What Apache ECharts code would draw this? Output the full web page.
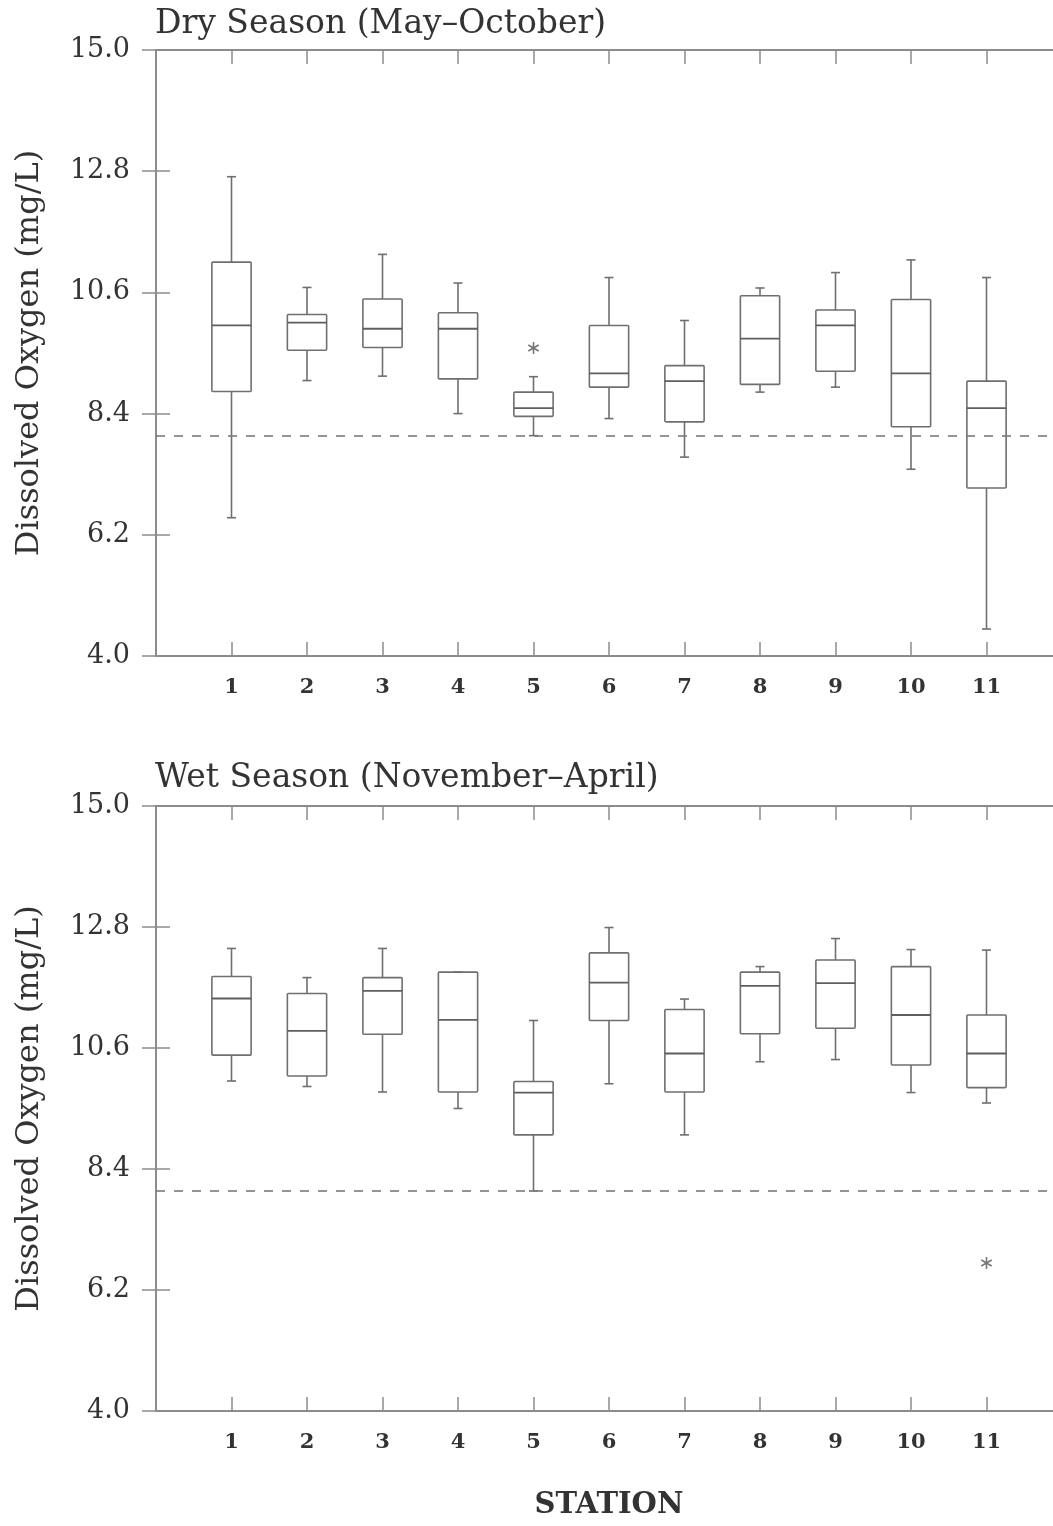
<!DOCTYPE html>
<html>
<head>
<meta charset="utf-8">
<script src="https://cdn.jsdelivr.net/npm/echarts@6/dist/echarts.min.js"></script>
<style>
html,body{margin:0;padding:0;background:#fff;}
#chart{width:1053px;height:1526px;}
</style>
</head>
<body>
<div id="chart"></div>
<script>
// ---- data ----
const stations = [1, 2, 3, 4, 5, 6, 7, 8, 9, 10, 11];
const yTicks = [4.0, 6.2, 8.4, 10.6, 12.8, 15.0];
const standardDO = 8.0;

const dryMin = [6.51, 9.00, 9.08, 8.40, 8.00, 8.31, 7.61, 8.79, 8.88, 7.39, 4.49];
const dryQ1  = [8.80, 9.55, 9.60, 9.03, 8.35, 8.88, 8.25, 8.93, 9.17, 8.16, 7.05];
const dryMed = [10.00, 10.05, 9.94, 9.94, 8.50, 9.13, 8.99, 9.76, 10.00, 9.13, 8.50];
const dryQ3  = [11.15, 10.20, 10.48, 10.23, 8.79, 10.00, 9.27, 10.54, 10.28, 10.47, 8.99];
const dryMax = [12.70, 10.69, 11.29, 10.77, 9.07, 10.87, 10.09, 10.68, 10.96, 11.19, 10.87];
const dryOutStation = [5];
const dryOutValue = [9.59];

const wetMin = [10.00, 9.90, 9.80, 9.50, 8.00, 9.95, 9.02, 10.35, 10.39, 9.79, 9.60];
const wetQ1  = [10.47, 10.09, 10.85, 9.80, 9.02, 11.10, 9.80, 10.86, 10.96, 10.29, 9.88];
const wetMed = [11.50, 10.91, 11.64, 11.11, 9.79, 11.79, 10.50, 11.73, 11.78, 11.20, 10.50];
const wetQ3  = [11.90, 11.59, 11.88, 11.98, 9.99, 12.33, 11.30, 11.98, 12.20, 12.08, 11.20];
const wetMax = [12.41, 11.88, 12.41, 11.98, 11.10, 12.79, 11.49, 12.08, 12.59, 12.39, 12.38];
const wetOutStation = [11];
const wetOutValue = [6.69];

const titles = ['Dry Season (May\u2013October)', 'Wet Season (November\u2013April)'];
const yName = 'Dissolved Oxygen (mg/L)';
const xName = 'STATION';

// ---- styles ----
const LINE = '#6f6f6f';
const AXIS = '#8c8c8c';
const TXT = '#333';
const SERIF = '"DejaVu Serif", "Liberation Serif", serif';

function boxData(mn, q1, md, q3, mx) {
  return stations.map((s, i) => [s, mn[i], q1[i], md[i], q3[i], mx[i]]);
}
function outData(st, v) { return st.map((s, i) => [s, v[i]]); }

function renderBox(params, api) {
  const x = api.value(0);
  const lo = api.coord([x, api.value(1)]);
  const q1 = api.coord([x, api.value(2)]);
  const md = api.coord([x, api.value(3)]);
  const q3 = api.coord([x, api.value(4)]);
  const hi = api.coord([x, api.value(5)]);
  const half = api.size([1, 0])[0] * 0.26;
  const cap = 4.5;
  const cx = lo[0];
  const st = { stroke: LINE, lineWidth: 1.6, fill: null };
  const children = [
    { type: 'rect', shape: { x: cx - half, y: q3[1], width: 2 * half, height: q1[1] - q3[1], r: 1 }, style: { stroke: LINE, lineWidth: 1.6, fill: 'rgba(0,0,0,0)' } },
    { type: 'line', shape: { x1: cx - half, y1: md[1], x2: cx + half, y2: md[1] }, style: { stroke: '#5e5e5e', lineWidth: 1.8 } },
    { type: 'line', shape: { x1: cx, y1: q3[1], x2: cx, y2: hi[1] }, style: st },
    { type: 'line', shape: { x1: cx - cap, y1: hi[1], x2: cx + cap, y2: hi[1] }, style: st },
    { type: 'line', shape: { x1: cx, y1: q1[1], x2: cx, y2: lo[1] }, style: st },
    { type: 'line', shape: { x1: cx - cap, y1: lo[1], x2: cx + cap, y2: lo[1] }, style: st }
  ];
  return { type: 'group', children };
}

const grids = [
  { left: 156, width: 906, top: 50, height: 606, outerBoundsMode: 'none', containLabel: false },
  { left: 156, width: 906, top: 806, height: 605, outerBoundsMode: 'none', containLabel: false }
];

const xAxes = [], yAxes = [];
grids.forEach((g, gi) => {
  const common = {
    type: 'value', gridIndex: gi, min: 0, max: 12, interval: 1,
    axisLine: { show: true, lineStyle: { color: AXIS, width: 2 } },
    axisTick: { show: true, inside: true, length: 14, lineStyle: { color: AXIS, width: 1.5 } },
    splitLine: { show: false }
  };
  xAxes.push(Object.assign({}, common, {
    position: 'bottom',
    axisLabel: {
      show: true, margin: 21, color: TXT, fontFamily: SERIF, fontSize: 21, fontWeight: 'bold',
      formatter: v => (v >= 1 && v <= 11) ? String(v) : ''
    },
    name: gi === 1 ? xName : '',
    nameLocation: 'middle', nameGap: 80,
    nameTextStyle: { color: TXT, fontFamily: SERIF, fontSize: 29, fontWeight: 'bold' }
  }));
  xAxes.push(Object.assign({}, common, { position: 'top', axisLabel: { show: false } }));
  const ycommon = {
    type: 'value', gridIndex: gi, min: 4, max: 15,
    axisLine: { show: true, lineStyle: { color: AXIS, width: 2 } },
    axisTick: { show: true, inside: true, length: 14, customValues: yTicks, lineStyle: { color: AXIS, width: 1.5 } },
    splitLine: { show: false }
  };
  yAxes.push(Object.assign({}, ycommon, {
    position: 'left',
    axisLabel: { show: true, margin: 26, customValues: yTicks, color: TXT, fontFamily: SERIF, fontSize: 27, formatter: v => v.toFixed(1) },
    name: yName, nameLocation: 'middle', nameGap: 110, nameRotate: 90,
    nameTextStyle: { color: TXT, fontFamily: SERIF, fontSize: 32 }
  }));
  yAxes.push(Object.assign({}, ycommon, { position: 'right', axisLabel: { show: false } }));
});

const asterisk = 'path://M0,-6L0,6M-5.2,-3L5.2,3M-5.2,3L5.2,-3';

function seriesFor(gi, bd, od) {
  return [
    {
      type: 'custom', xAxisIndex: gi * 2, yAxisIndex: gi * 2,
      renderItem: renderBox, data: bd,
      encode: { x: 0, y: [1, 2, 3, 4, 5] },
      silent: true,
      markLine: {
        silent: true, symbol: ['none', 'none'],
        label: { show: false },
        lineStyle: { color: '#7a7a7a', width: 1.6, type: [9, 9] },
        data: [{ yAxis: standardDO }]
      }
    },
    {
      type: 'scatter', xAxisIndex: gi * 2, yAxisIndex: gi * 2,
      data: od, symbol: asterisk, symbolSize: 12, symbolKeepAspect: true,
      itemStyle: { color: 'none', borderColor: '#555', borderWidth: 1.6 },
      silent: true
    }
  ];
}

const option = {
  backgroundColor: '#fff',
  animation: false,
  grid: grids,
  xAxis: xAxes,
  yAxis: yAxes,
  graphic: [
    { type: 'text', left: 155, top: 8, style: { text: titles[0], fill: TXT, font: '33px ' + SERIF } },
    { type: 'text', left: 155, top: 762, style: { text: titles[1], fill: TXT, font: '33px ' + SERIF } }
  ],
  series: [].concat(
    seriesFor(0, boxData(dryMin, dryQ1, dryMed, dryQ3, dryMax), outData(dryOutStation, dryOutValue)),
    seriesFor(1, boxData(wetMin, wetQ1, wetMed, wetQ3, wetMax), outData(wetOutStation, wetOutValue))
  )
};

const chart = echarts.init(document.getElementById('chart'), null, { renderer: 'canvas' });
chart.setOption(option);
</script>
</body>
</html>
